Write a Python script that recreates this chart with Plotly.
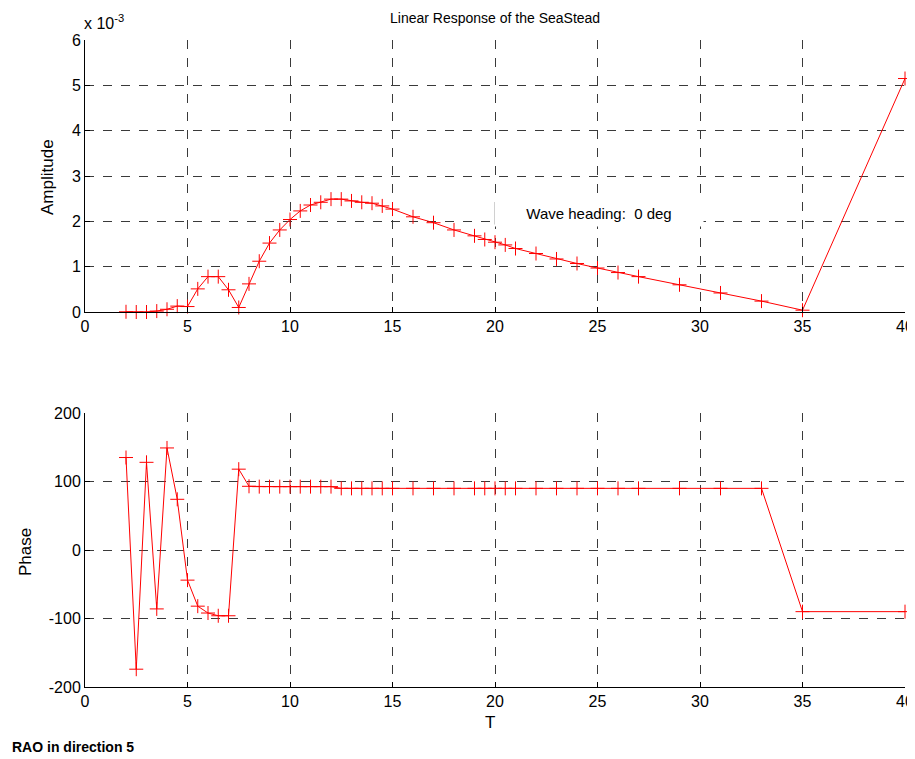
import plotly.graph_objects as go

# Wave period T
T = [2, 2.5, 3, 3.5, 4, 4.5, 5, 5.5, 6, 6.5, 7, 7.5, 8, 8.5, 9, 9.5, 10, 10.5, 11, 11.5,
     12, 12.5, 13, 13.5, 14, 14.5, 15, 16, 17, 18, 19, 19.5, 20, 20.5, 21, 22, 23, 24,
     25, 26, 27, 29, 31, 33, 35, 40]

# Amplitude in units of 1e-3
amp_e3 = [0.005, 0.0, 0.0, 0.02, 0.06, 0.13, 0.12, 0.51, 0.78, 0.78, 0.49, 0.10, 0.62,
          1.12, 1.52, 1.81, 2.04, 2.23, 2.36, 2.42, 2.49, 2.49, 2.45, 2.42, 2.40, 2.34,
          2.27, 2.10, 1.97, 1.81, 1.68, 1.60, 1.54, 1.48, 1.40, 1.29, 1.17, 1.07, 0.97,
          0.87, 0.78, 0.60, 0.42, 0.24, 0.04, 5.15]

# Phase in degrees
phase = [135, -174, 128, -86, 149, 74, -44, -82, -92, -96, -96, 118, 93, 92.5, 92.5,
         92.5, 92.5, 92.5, 92.5, 92.5, 92.5, 90, 90, 90, 90, 90, 90, 90, 90, 90, 90, 90,
         90, 90, 90, 90, 90, 90, 90, 90, 90, 90, 90, 90, -90, -90]

x_ticks = [0, 5, 10, 15, 20, 25, 30, 35, 40]
amp_ticks = [0, 1, 2, 3, 4, 5, 6]
phase_ticks = [-200, -100, 0, 100, 200]

# the page body has an 8px margin, so the figure is drawn 8px in from the corner
OFF = 8
W, H = 915 - OFF, 759 - OFF
FONT = "Liberation Sans, Arial, sans-serif"
RED = "#ff0000"
GRID = "#3a3a3a"


def px(x):
    return (x - OFF) / W


def py(y):
    return 1 - (y - OFF) / H


amp = [a * 1e-3 for a in amp_e3]

fig = go.Figure()
common_marker = dict(symbol="cross-thin-open", size=10, color=RED,
                     line=dict(color=RED, width=1))
fig.add_trace(go.Scatter(x=T, y=amp, mode="lines+markers", xaxis="x", yaxis="y",
                         line=dict(color=RED, width=1), marker=common_marker,
                         showlegend=False, cliponaxis=False))
fig.add_trace(go.Scatter(x=T, y=phase, mode="lines+markers", xaxis="x2", yaxis="y2",
                         line=dict(color=RED, width=1), marker=common_marker,
                         showlegend=False, cliponaxis=False))

axis_common = dict(showline=True, linecolor="black", linewidth=1, mirror=False,
                   ticks="inside", ticklen=5, tickcolor="black", automargin=False,
                   ticklabeloverflow="allow",
                   showgrid=True, gridcolor=GRID, griddash="dash", gridwidth=1,
                   zeroline=False, tickfont=dict(family=FONT, size=16, color="black"))

fig.update_layout(
    width=W, height=H,
    margin=dict(l=0, r=0, t=0, b=0, autoexpand=False),
    paper_bgcolor="white", plot_bgcolor="white",
    font=dict(family=FONT, size=16, color="black"),
    xaxis=dict(domain=[px(85), px(905)], anchor="y", range=[0, 40],
               tickvals=x_ticks, **axis_common),
    yaxis=dict(domain=[py(312), py(40)], anchor="x", range=[0, 6e-3],
               tickvals=[t * 1e-3 for t in amp_ticks],
               ticktext=[str(t) for t in amp_ticks], **axis_common),
    xaxis2=dict(domain=[px(85), px(905)], anchor="y2", range=[0, 40],
                tickvals=x_ticks, **axis_common),
    yaxis2=dict(domain=[py(687), py(413)], anchor="x2", range=[-200, 200],
                tickvals=phase_ticks, ticktext=[str(t) for t in phase_ticks],
                **axis_common),
)


def note(text, x, y, size, xanchor="center", angle=0, family=FONT, **kw):
    return dict(text=text, x=px(x), y=py(y), xref="paper", yref="paper",
                showarrow=False, xanchor=xanchor, yanchor="middle", textangle=angle,
                font=dict(family=family, size=size, color="black"), **kw)


annotations = [
    note("Linear Response of the SeaStead", 495, 18, 14),
    note("x 10<sup>-3</sup>", 82, 22, 16, xanchor="left"),
    note("Amplitude", 47, 177, 17, angle=-90),
    note("Phase", 25, 552, 17, angle=-90),
    note("T", 490, 722, 17),
    note("Wave heading:\u00a0\u00a00 deg", 599, 213, 15, width=206, height=24,
         bgcolor="white"),
    note("<b>RAO in direction 5</b>", 10, 747, 14, xanchor="left"),
]
fig.update_layout(annotations=annotations)

fig.update_layout(shapes=[
    dict(type="line", xref="paper", yref="paper", x0=px(495), x1=px(703),
         y0=py(224.5), y1=py(224.5), line=dict(color="#b0b0b0", width=1), layer="above"),
    dict(type="line", xref="paper", yref="paper", x0=px(495), x1=px(495),
         y0=py(202), y1=py(224.5), line=dict(color="#404040", width=1), layer="above"),
])

fig.write_html("out.html", default_width=f"{W}px", default_height=f"{H}px")
